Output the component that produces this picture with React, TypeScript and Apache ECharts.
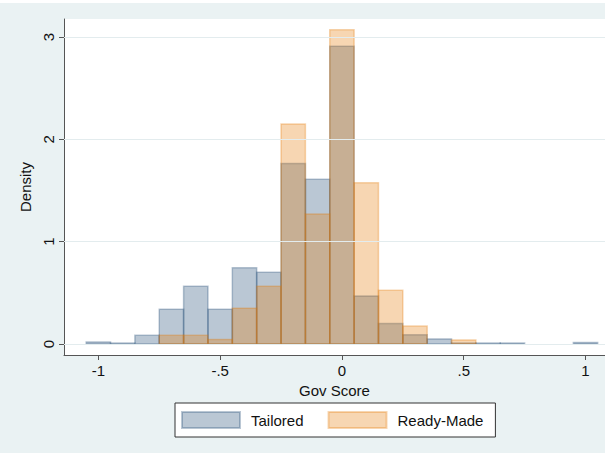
import React, { useEffect, useRef } from "react";
import * as echarts from "echarts";

const binCenters = [-1.0, -0.9, -0.8, -0.7, -0.6, -0.5, -0.4, -0.3, -0.2, -0.1, 0.0, 0.1, 0.2, 0.3, 0.4, 0.5, 0.6, 0.7, 0.8, 0.9, 1.0];
const tailored = [0.02, 0.01, 0.085, 0.34, 0.565, 0.34, 0.745, 0.70, 1.765, 1.61, 2.91, 0.47, 0.20, 0.09, 0.05, 0.01, 0.01, 0.01, 0, 0, 0.015];
const readyMade = [0, 0, 0, 0.085, 0.085, 0.045, 0.35, 0.565, 2.15, 1.27, 3.07, 1.575, 0.525, 0.175, 0, 0.04, 0, 0, 0, 0, 0];
const BIN_WIDTH = 0.1;
const xTicks = [-1, -0.5, 0, 0.5, 1];
const yTicks = [0, 1, 2, 3];
const seriesNames = ["Tailored", "Ready-Made"];

const FONT = '"Liberation Sans", Arial, Helvetica, sans-serif';
const BG = "#EAF2F3";
const TAIL_FILL = "rgba(26,71,111,0.3)";
const READY_FILL = "rgba(228,120,0,0.3)";

function fmtX(v: number): string {
  if (v === 0) return "0";
  const s = String(Math.abs(v)).replace(/^0\./, ".");
  return (v < 0 ? "-" : "") + s;
}

function makeSeries(name: string, values: number[], fill: string) {
  return {
    name,
    type: "custom",
    z: 2,
    itemStyle: { color: fill, borderColor: fill, borderWidth: 1.5 },
    data: binCenters.map((c, i) => [c, values[i]]),
    renderItem: (_params: any, api: any) => {
      const c = api.value(0);
      const v = api.value(1);
      if (!v) return null;
      const p0 = api.coord([c - BIN_WIDTH / 2, v]);
      const p1 = api.coord([c + BIN_WIDTH / 2, 0]);
      return {
        type: "rect",
        shape: { x: p0[0], y: p0[1], width: p1[0] - p0[0], height: p1[1] - p0[1] },
        style: { fill, stroke: fill, lineWidth: 1.5 },
      };
    },
  };
}

export default function App() {
  const ref = useRef<HTMLDivElement>(null);
  useEffect(() => {
    if (!ref.current) return;
    const chart = echarts.init(ref.current, null, { renderer: "svg" });
    chart.setOption({
      animation: false,
      backgroundColor: BG,
      textStyle: { fontFamily: FONT },
      graphic: [
        { type: "rect", left: 0, top: 0, shape: { width: 605, height: 3 }, style: { fill: "#ffffff" }, z: 10 },
      ],
      grid: { left: 64, top: 19, right: 0, bottom: 98, backgroundColor: "#ffffff", show: true, borderWidth: 0 },
      legend: {
        data: seriesNames,
        left: 175,
        top: 403,
        orient: "horizontal",
        backgroundColor: "#ffffff",
        borderColor: "#333333",
        borderWidth: 1,
        borderRadius: 0,
        padding: [8, 12, 8, 6],
        itemWidth: 58,
        itemHeight: 16,
        itemGap: 24,
        icon: "rect",
        textStyle: { fontFamily: FONT, fontSize: 15, color: "#111", padding: [0, 0, 0, 6], lineHeight: 16 },
      },
      xAxis: {
        type: "value",
        min: -1.141,
        max: 1.080,
        name: "Gov Score",
        nameLocation: "middle",
        nameGap: 24,
        nameTextStyle: { fontFamily: FONT, fontSize: 15, color: "#111" },
        axisLine: { show: true, onZero: false, lineStyle: { color: "#555", width: 1 } },
        axisTick: { show: true, length: 5, customValues: xTicks, lineStyle: { color: "#555" } },
        axisLabel: { customValues: xTicks, formatter: (v: number) => fmtX(v), fontFamily: FONT, fontSize: 15, color: "#111", margin: 8 },
        splitLine: { show: false },
      },
      yAxis: {
        type: "value",
        min: -0.1075,
        max: 3.176,
        name: "Density",
        nameLocation: "middle",
        nameGap: 30,
        nameTextStyle: { fontFamily: FONT, fontSize: 15, color: "#111" },
        axisLine: { show: true, onZero: false, lineStyle: { color: "#555", width: 1 } },
        axisTick: { show: true, length: 5, customValues: yTicks, lineStyle: { color: "#555" } },
        axisLabel: { customValues: yTicks, rotate: 90, fontFamily: FONT, fontSize: 15, color: "#111", margin: 8 },
        splitLine: { show: false },
      },
      series: [
        {
          type: "line",
          data: [],
          z: 1,
          silent: true,
          markLine: {
            silent: true,
            symbol: "none",
            label: { show: false },
            lineStyle: { color: "#E3ECEE", width: 1, type: "solid" },
            data: yTicks.map((t) => ({ yAxis: t })),
          },
        },
        makeSeries(seriesNames[0], tailored, TAIL_FILL),
        makeSeries(seriesNames[1], readyMade, READY_FILL),
      ],
    });
    return () => chart.dispose();
  }, []);
  return <div ref={ref} style={{ position: "fixed", left: 0, top: 0, width: 605, height: 453 }} />;
}
